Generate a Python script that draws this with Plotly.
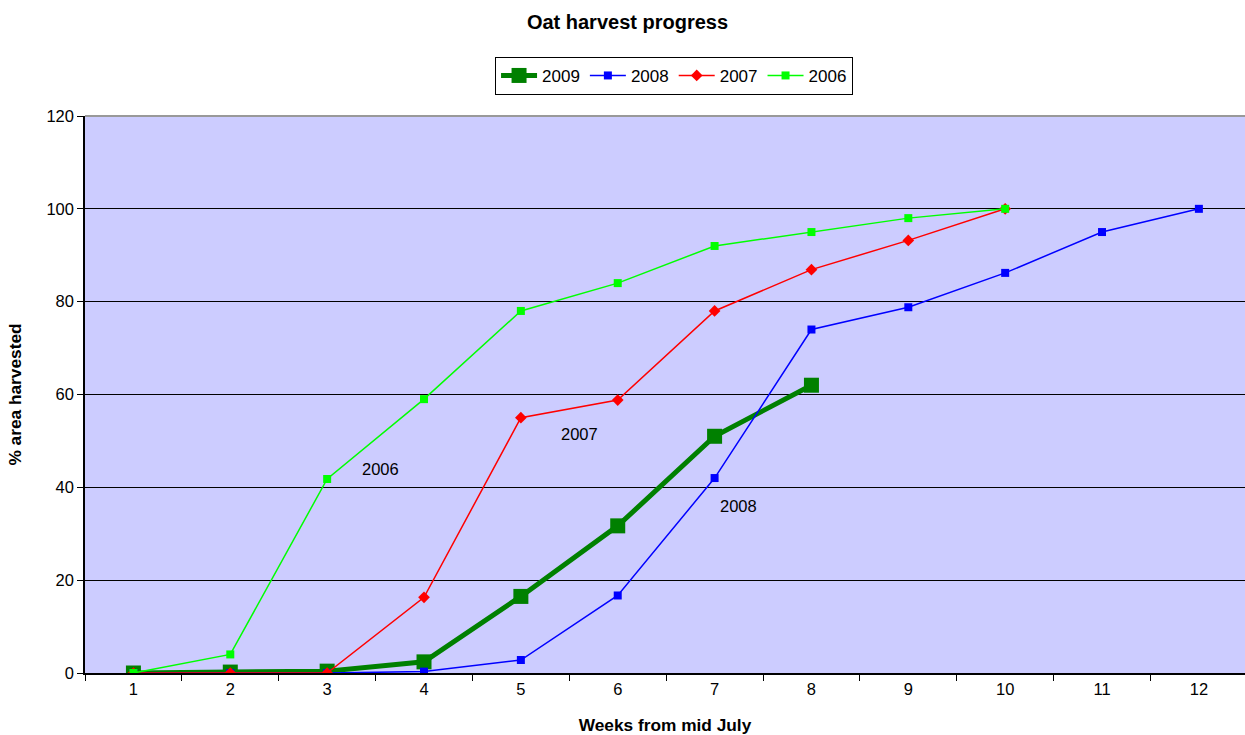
import plotly.graph_objects as go

weeks = [str(w) for w in range(1, 13)]

harvest_2009 = [0, 0.2, 0.4, 2.4, 16.5, 31.7, 51, 62]
harvest_2008 = [0, 0, 0, 0.3, 2.8, 16.7, 42, 74, 78.8, 86.2, 95, 100]
harvest_2007 = [0, 0, 0, 16.3, 55, 58.8, 78, 86.9, 93.2, 100]
harvest_2006 = [0, 4, 41.8, 59, 78, 84, 92, 95, 98, 100]

label_text = ["2006", "2007", "2008"]
label_x = [2.55, 4.61, 6.25]
label_y = [44, 51.4, 36]

FONT = "Liberation Sans, Arial, sans-serif"

fig = go.Figure()

fig.add_trace(go.Scatter(
    x=weeks[:len(harvest_2009)], y=harvest_2009, name="2009", mode="lines+markers",
    line=dict(color="#008000", width=5),
    marker=dict(symbol="square", size=15, color="#008000"),
))
fig.add_trace(go.Scatter(
    x=weeks[:len(harvest_2008)], y=harvest_2008, name="2008", mode="lines+markers",
    line=dict(color="#0000FF", width=1.5),
    marker=dict(symbol="square", size=8, color="#0000FF"),
))
fig.add_trace(go.Scatter(
    x=weeks[:len(harvest_2007)], y=harvest_2007, name="2007", mode="lines+markers",
    line=dict(color="#FF0000", width=1.5),
    marker=dict(symbol="diamond", size=9, color="#FF0000"),
))
fig.add_trace(go.Scatter(
    x=weeks[:len(harvest_2006)], y=harvest_2006, name="2006", mode="lines+markers",
    line=dict(color="#00FF00", width=1.5),
    marker=dict(symbol="square", size=8, color="#00FF00"),
))

for t, xx, yy in zip(label_text, label_x, label_y):
    fig.add_annotation(x=xx, y=yy, text=t, showarrow=False,
                       font=dict(family=FONT, size=16.5, color="black"))

# grey top border of the plotting area
fig.add_shape(type="line", xref="paper", yref="paper", x0=0, x1=1, y0=1, y1=1,
              line=dict(color="#999999", width=2))

fig.update_layout(
    width=1245, height=735,
    margin=dict(l=85, r=0, t=116, b=62),
    paper_bgcolor="white",
    plot_bgcolor="#CCCCFF",
    font=dict(family=FONT, size=16.5, color="black"),
    title=dict(text="<b>Oat harvest progress</b>", x=0.504, xanchor="center",
               y=1 - 22 / 735, yanchor="middle",
               font=dict(family=FONT, size=20, color="black")),
    showlegend=True,
    legend=dict(orientation="h", x=0.5078, xanchor="center", y=1.072, yanchor="middle",
                bordercolor="black", borderwidth=1, bgcolor="white",
                font=dict(family=FONT, size=17), itemwidth=36,
                tracegroupgap=0),
    xaxis=dict(
        type="category", categoryorder="array", categoryarray=weeks,
        range=[-0.5, 11.476], tickson="boundaries",
        ticks="outside", ticklen=6, tickcolor="black", tickwidth=1,
        showline=True, linecolor="black", linewidth=1.5,
        showgrid=False, zeroline=False,
        tickfont=dict(family=FONT, size=16.5),
        title=dict(text="<b>Weeks from mid July</b>", standoff=24,
                   font=dict(family=FONT, size=17.3)),
    ),
    yaxis=dict(
        range=[0, 120], tickvals=[0, 20, 40, 60, 80, 100, 120],
        ticks="outside", ticklen=6, tickcolor="black", tickwidth=1,
        showline=True, linecolor="black", linewidth=1.5,
        showgrid=True, gridcolor="black", gridwidth=1,
        zeroline=False,
        tickfont=dict(family=FONT, size=16.5),
        title=dict(text="<b>% area harvested</b>", standoff=20,
                   font=dict(family=FONT, size=17.3)),
    ),
)

fig.write_html("out.html")
